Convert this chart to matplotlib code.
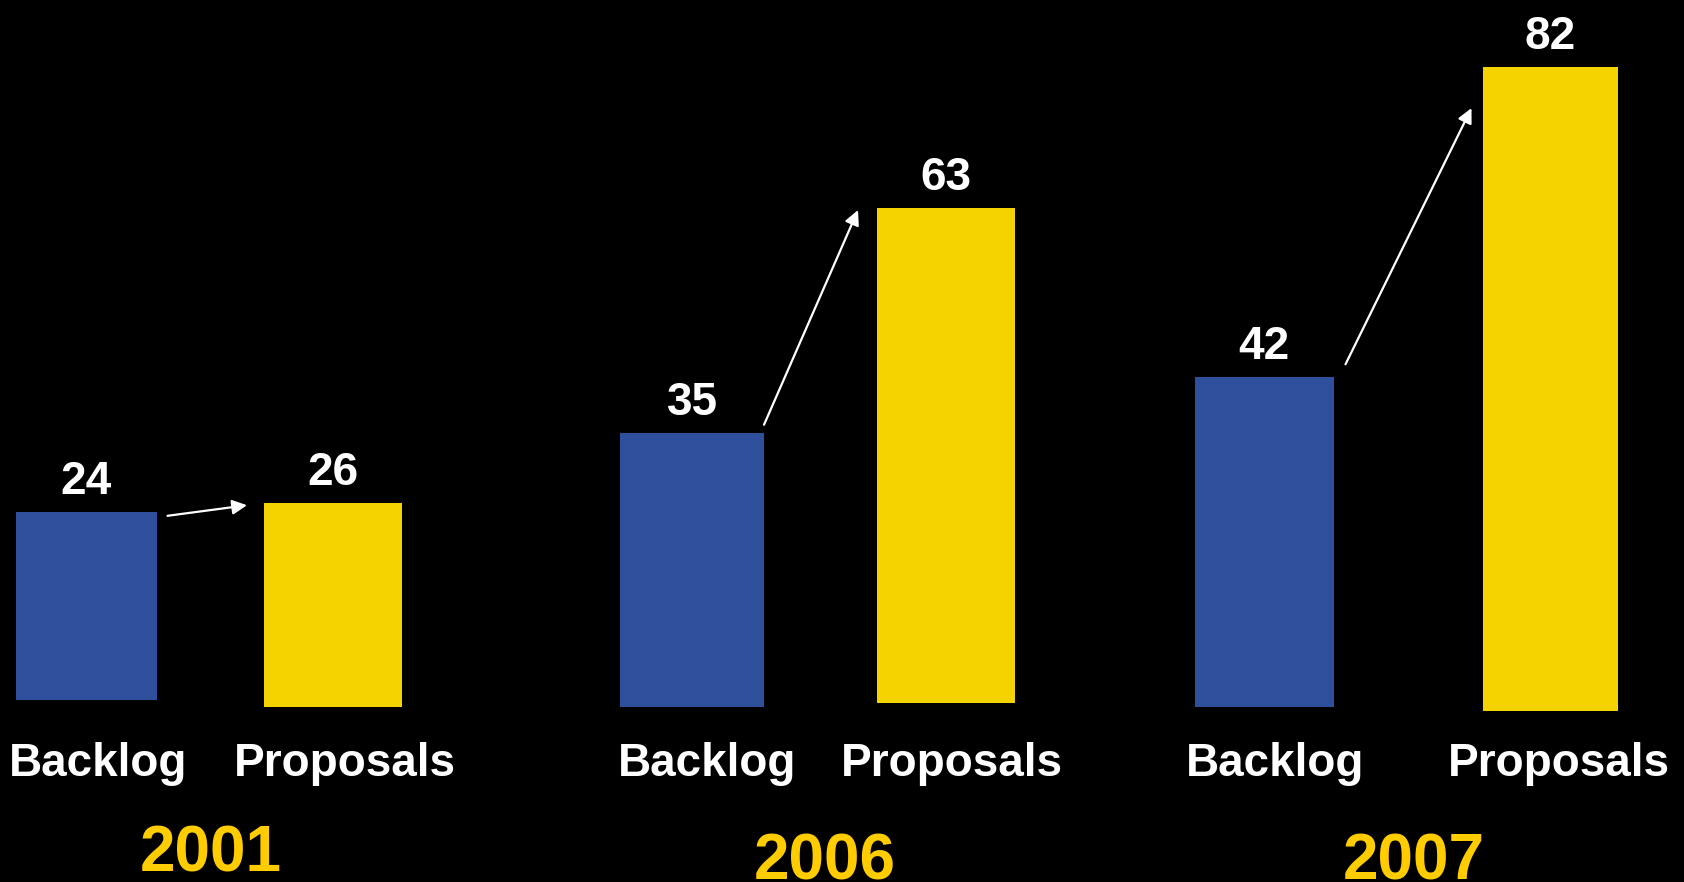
import matplotlib
matplotlib.use("Agg")
import matplotlib.pyplot as plt

# ---- data ----
years = ["2001", "2006", "2007"]
categories = ["Backlog", "Proposals"]
backlog = [24, 35, 42]
proposals = [26, 63, 82]

# ---- layout (pixel-like x units, value y units) ----
W, H = 1684, 882
base_px, px_per_unit = 705, 7.85
bar_x = [[86, 333], [692, 946], [1264, 1550]]
bar_w = [[141, 138], [144, 138], [139, 135]]
bar_bottom = [[0.6, -0.25], [-0.3, 0.25], [-0.2, -0.76]]
label_x = [[98, 345], [707, 952], [1275, 1559]]
year_x = [211, 825, 1414]
year_y = [-21.27, -22.17, -22.29]
cat_y = -9.04
arrow_dx = [(11, -17), (0, -19), (12, -11)]
arrow_dy = [(-0.5, -0.3), (1.0, -0.2), (1.6, -5.2)]

blue = "#2E4F9C"
yellow = "#F5D300"
year_color = "#FFCC00"

plt.rcParams["font.family"] = ["Liberation Sans", "DejaVu Sans"]

fig = plt.figure(figsize=(W / 100, H / 100), dpi=100, facecolor="black")
ax = fig.add_axes([0, 0, 1, 1])
ax.set_facecolor("black")
ax.set_xlim(0, W)
ax.set_ylim(-(H - base_px) / px_per_unit, base_px / px_per_unit)
ax.axis("off")

for g in range(len(years)):
    vals = [backlog[g], proposals[g]]
    cols = [blue, yellow]
    for k in range(2):
        ax.bar(bar_x[g][k], vals[k], width=bar_w[g][k], bottom=bar_bottom[g][k],
               color=cols[k], linewidth=0)
        ax.annotate(str(vals[k]), (bar_x[g][k], bar_bottom[g][k] + vals[k]),
                    xytext=(0, 13), textcoords="offset points",
                    ha="center", va="baseline", color="white",
                    fontsize=33, fontweight="bold")
        ax.text(label_x[g][k], cat_y, categories[k], ha="center", va="baseline",
                color="white", fontsize=33, fontweight="bold")
    ax.text(year_x[g], year_y[g], years[g], ha="center", va="baseline",
            color=year_color, fontsize=46, fontweight="bold")
    # arrow from backlog to proposals
    x0 = bar_x[g][0] + bar_w[g][0] / 2 + arrow_dx[g][0]
    x1 = bar_x[g][1] - bar_w[g][1] / 2 + arrow_dx[g][1]
    y0 = bar_bottom[g][0] + backlog[g] + arrow_dy[g][0]
    y1 = bar_bottom[g][1] + proposals[g] + arrow_dy[g][1]
    ax.annotate("", xy=(x1, y1), xytext=(x0, y0),
                arrowprops=dict(arrowstyle="-|>", color="white", lw=1.6,
                                mutation_scale=22, shrinkA=0, shrinkB=0))

fig.savefig("out.png", dpi=100, facecolor="black")
